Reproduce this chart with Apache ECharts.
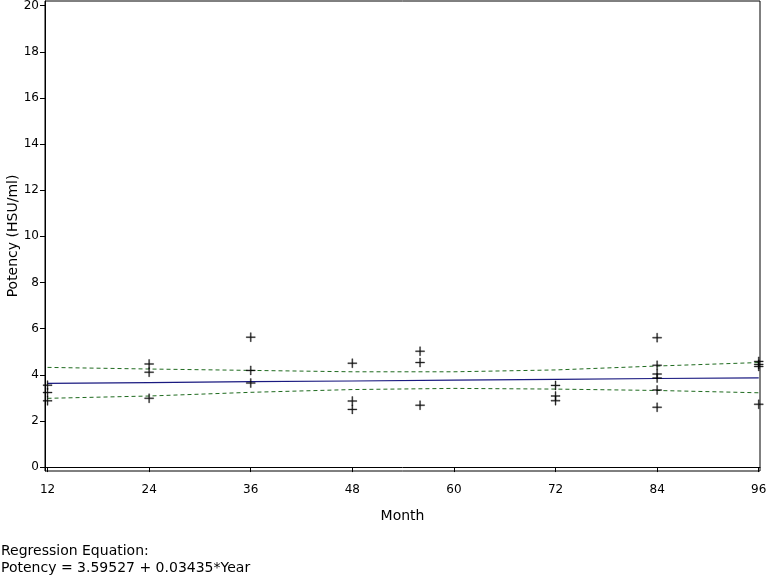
<!DOCTYPE html>
<html><head><meta charset="utf-8">
<script src="https://cdn.jsdelivr.net/npm/echarts@6/dist/echarts.min.js"></script>
<style>html,body{margin:0;padding:0;background:#fff}#c{width:768px;height:576px}</style>
</head><body><div id="c"></div>
<script>
const xTicks = [12, 24, 36, 48, 60, 72, 84, 96];
const yTicks = [0, 2, 4, 6, 8, 10, 12, 14, 16, 18, 20];
const obsMonth = [12,12,12, 24,24,24, 36,36,36, 48,48,48, 56,56,56, 72,72,72, 84,84,84,84,84,84, 96,96,96,96];
const obsPotency = [3.55,3.23,2.87, 4.47,4.11,2.98, 5.63,4.19,3.64, 4.50,2.86,2.50, 5.02,4.53,2.68, 3.54,3.08,2.88, 5.61,4.41,4.03,3.86,3.34,2.59, 4.58,4.45,4.36,2.72];
const fitMonth = [12, 24, 36, 48, 60, 72, 84, 96];
const fitValue = [3.63, 3.66, 3.70, 3.73, 3.77, 3.80, 3.84, 3.87];
const upperValue = [4.32, 4.25, 4.19, 4.13, 4.13, 4.21, 4.38, 4.53];
const lowerValue = [2.98, 3.08, 3.24, 3.36, 3.41, 3.38, 3.32, 3.22];
const eqLines = ["Regression Equation:", "Potency = 3.59527 + 0.03435*Year"];

const font = "'DejaVu Sans', 'Noto Sans', sans-serif";
const pts = obsMonth.map((m, i) => [m, obsPotency[i]]);
const pair = (xs, ys) => xs.map((m, i) => [m, ys[i]]);
const plus = 'path://M0,4L9,4L9,5L0,5Z M4,0L5,0L5,9L4,9Z';

const chart = echarts.init(document.getElementById('c'), null, {renderer: 'canvas'});
chart.setOption({
  animation: false,
  backgroundColor: '#fff',
  grid: {left: 45, right: 8, top: 1, bottom: 105, show: true, borderColor: '#000', borderWidth: 1, containLabel: false, outerBoundsMode: 'none'},
  xAxis: {
    type: 'value', min: 11.7, max: 96.15,
    name: 'Month', nameLocation: 'middle', nameGap: 38, nameMoveOverlap: false,
    nameTextStyle: {fontFamily: font, fontSize: 14, color: '#000'},
    axisLine: {lineStyle: {color: '#000', width: 1}},
    axisTick: {show: true, length: 5, inside: false, customValues: xTicks, lineStyle: {color: '#000'}},
    axisLabel: {customValues: xTicks, fontFamily: font, fontSize: 12, color: '#000', margin: 13},
    splitLine: {show: false}
  },
  yAxis: {
    type: 'value', min: -0.17, max: 20.2,
    name: 'Potency (HSU/ml)', nameLocation: 'middle', nameGap: 25, nameRotate: 90, nameMoveOverlap: false,
    nameTextStyle: {fontFamily: font, fontSize: 14, color: '#000'},
    axisLine: {show: true, lineStyle: {color: '#000', width: 1}},
    axisTick: {show: true, length: 5, customValues: yTicks, lineStyle: {color: '#000'}},
    axisLabel: {customValues: yTicks, fontFamily: font, fontSize: 12, color: '#000', margin: 6},
    splitLine: {show: false}
  },
  series: [
    {type: 'line', data: pair(fitMonth, upperValue), symbol: 'none', lineStyle: {color: '#1f6b1f', width: 1, type: [4, 3]}, z: 2},
    {type: 'line', data: pair(fitMonth, lowerValue), symbol: 'none', lineStyle: {color: '#1f6b1f', width: 1, type: [4, 3]}, z: 2},
    {type: 'line', data: pair(fitMonth, fitValue), symbol: 'none', lineStyle: {color: '#1a1a80', width: 1.2}, z: 3},
    {type: 'scatter', data: pts, symbol: plus, symbolSize: [9, 9], itemStyle: {color: '#000', borderColor: '#000', borderWidth: 0.4}, z: 4}
  ],
  graphic: [{
    type: 'text', left: 1, top: 543,
    style: {text: eqLines.join('\n'), fontFamily: font, fontSize: 14, lineHeight: 17, fill: '#000'}
  }]
});
</script></body></html>
